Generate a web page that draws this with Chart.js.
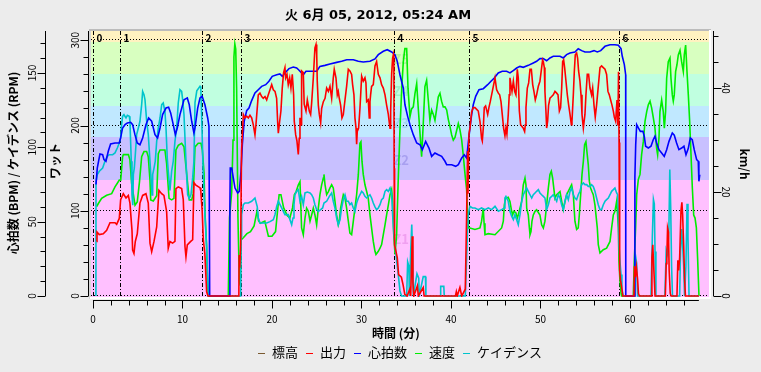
<!DOCTYPE html>
<html>
<head>
<meta charset="utf-8">
<script src="https://cdn.jsdelivr.net/npm/chart.js@4.4.1/dist/chart.umd.min.js"></script>
<style>
  html, body { margin: 0; padding: 0; background: #ececec; }
  canvas { display: block; }
</style>
</head>
<body>
<canvas id="ride" width="761" height="372"></canvas>
<script>
// Ride plot: power / heart rate / speed / cadence against time (minutes)

const rideTitle = '火 6月 05, 2012, 05:24 AM';

// [minute, watts]
const power = [
  [0.41,64],[0.45,75],[0.7,72],[1.15,73],[1.53,77],[1.9,86],[2.46,86],[2.65,84],[2.94,91],[3.09,113],[3.39,120],[3.69,115],[3.95,118],[4.13,109],[4.36,77],[4.43,54],[4.58,50],[4.73,64],[4.95,73],[5.25,109],[5.55,118],[5.92,120],[6.18,109],[6.37,62],[6.56,52],[6.82,64],[7.12,81],[7.37,124],[7.67,120],[7.93,118],[8.23,99],[8.41,56],[8.6,64],[8.9,62],[9.16,64],[9.27,126],[9.53,128],[9.91,126],[10.09,113],[10.28,58],[10.39,46],[10.54,60],[10.92,64],[11.14,66],[11.28,133],[11.5,130],[11.8,128],[11.96,127],[12.05,123],[12.2,100],[12.33,66],[12.5,50],[12.7,5],[12.85,0],
  [16.3,0],[16.33,48],[16.4,33],[16.5,60],[16.6,170],[16.8,213],[16.98,209],[17.17,211],[17.36,209],[17.54,212],[17.73,209],[17.91,201],[18.1,189],[18.21,201],[18.36,221],[18.47,236],[18.66,238],[18.85,234],[19.03,232],[19.22,234],[19.41,230],[19.59,236],[19.78,242],[19.97,248],[20.15,242],[20.34,240],[20.52,232],[20.63,205],[20.71,191],[20.86,205],[21.0,217],[21.15,244],[21.3,262],[21.45,268],[21.53,256],[21.68,260],[21.82,248],[21.98,256],[22.12,244],[22.27,260],[22.42,236],[22.49,205],[22.65,189],[22.79,182],[22.94,166],[23.05,185],
  [23.13,209],[23.25,201],[23.31,264],[23.5,262],[23.6,225],[23.8,217],[23.95,230],[24.17,217],[24.32,213],[24.43,226],[24.62,256],[24.8,291],[24.92,295],[25.0,283],[25.06,252],[25.18,224],[25.29,213],[25.44,203],[25.55,220],[25.74,228],[25.93,232],[26.11,244],[26.3,240],[26.48,246],[26.67,232],[26.85,256],[26.96,266],[27.15,256],[27.3,236],[27.41,240],[27.52,232],[27.67,224],[27.82,209],[27.97,213],[28.16,230],[28.34,246],[28.53,266],[28.71,264],[28.9,260],[29.01,248],[29.16,236],[29.27,209],[29.39,197],[29.46,178],[29.53,193],[29.68,197],[29.83,220],[29.91,236],[30.02,258],[30.2,252],[30.39,256],[30.5,250],[30.58,228],[30.76,230],[30.87,209],[30.95,228],[31.02,236],[31.13,246],[31.32,248],[31.51,270],[31.69,275],[31.88,260],[32.07,256],[32.25,248],[32.44,244],[32.63,236],[32.81,224],[33.0,213],[33.11,203],[33.19,197],[33.26,216],[33.37,260],[33.48,279],[33.56,283],[33.62,275],[33.65,150],[33.7,60],[34.0,45],[34.15,25],[34.46,22],[34.65,13],[34.84,2],[35.1,0],[35.4,8],[35.5,0],[35.6,40],[35.67,70],[35.75,15],[35.85,0],[36.25,12],[36.35,0],[36.9,10],[37.0,0],[40.5,0],[40.6,5],[40.7,0],[41.0,10],[41.2,0],[41.6,8],
  [41.75,95],[41.86,170],[41.9,120],[42.01,190],[42.12,197],[42.31,216],[42.49,221],[42.68,221],[42.87,219],[43.05,217],[43.24,205],[43.42,185],[43.5,182],[43.61,197],[43.72,221],[43.87,223],[44.1,213],[44.24,221],[44.39,228],[44.62,240],[44.77,248],[44.92,256],[45.1,242],[45.29,238],[45.44,236],[45.59,228],[45.73,213],[45.88,197],[46.03,188],[46.14,197],[46.25,190],[46.4,213],[46.51,236],
  [46.59,256],[46.7,248],[46.82,240],[46.97,252],[47.12,240],[47.26,236],[47.41,266],[47.52,256],[47.64,217],[47.78,201],[47.93,199],[48.08,197],[48.23,193],[48.31,201],[48.38,221],[48.53,244],[48.68,250],[48.83,266],[48.98,266],[49.13,248],[49.27,240],[49.42,230],[49.57,236],[49.76,246],[49.94,252],[50.13,268],[50.24,277],[50.32,275],[50.43,268],[50.5,240],[50.61,217],[50.69,197],[50.8,205],[50.91,224],[51.06,232],[51.25,234],[51.43,236],[51.62,240],[51.81,238],[51.96,236],[52.11,217],[52.25,221],[52.37,244],[52.48,275],[52.59,277],[52.7,268],[52.85,252],[53.0,236],[53.15,224],[53.3,213],[53.45,201],[53.52,205],[53.67,236],[53.78,263],[53.89,283],[54.04,285],[54.15,279],[54.26,264],[54.41,252],[54.53,236],[54.64,213],[54.79,197],[54.86,197],[54.97,213],[55.08,236],[55.23,260],[55.38,260],[55.53,244],[55.71,236],[55.83,244],[55.98,224],[56.12,210],[56.27,224],[56.46,246],[56.65,268],[56.83,270],[57.02,268],[57.21,266],[57.39,260],[57.54,240],[57.69,236],[57.84,230],[57.99,224],[58.14,217],[58.25,210],
  [58.4,205],[58.55,230],[58.65,200],[58.72,263],[58.78,180],[58.85,30],[58.95,18],[59.05,12],[59.2,0],[60.45,0],[60.5,35],[60.6,22],[60.72,34],[60.85,20],[60.95,3],[61.05,0],[62.35,0],[62.45,45],[62.55,60],[62.65,35],[62.8,0],[63.95,0],[64.05,38],[64.12,46],[64.2,80],[64.3,75],[64.38,30],[64.5,3],[64.6,0],[65.25,0],[65.35,42],[65.45,30],[65.55,45],[65.7,100],[65.8,110],[65.88,96],[66.0,60],[66.1,20],[66.2,0],[67.7,0]
];

// [minute, bpm]
const heartRate = [
  [0.34,75],[0.48,86],[0.78,95.5],[1.08,95],[1.23,91.7],[1.45,90.6],[1.71,97.3],[1.97,102.2],[2.46,102.9],[2.94,102.9],[3.09,106.3],[3.31,113],[3.58,115.2],[3.84,116.3],[4.21,116.8],[4.43,115.2],[4.69,108.5],[4.95,102.9],[5.25,101.7],[5.55,106.3],[5.92,115.2],[6.22,119.7],[6.56,117.5],[6.93,108.5],[7.22,106.3],[7.49,113],[7.78,122],[8.16,126.4],[8.45,126.9],[8.68,123.1],[8.97,115.2],[9.2,108.5],[9.42,113],[9.72,122],[10.17,132],[10.54,133.2],[10.76,128.6],[11.03,117.5],[11.28,109.6],[11.4,113],[11.7,126.4],[11.96,133.2],[12.2,134.3],[12.51,128.6],[12.82,119.7],[12.96,114.1],[13.04,0],
  [15.22,0],[15.3,60],[15.34,86],[15.5,86],[15.68,79.4],[15.87,72.6],[16.17,69.3],[16.35,70.4],[16.54,83.9],[16.69,101.7],[16.9,117.5],[17.17,124.6],[17.43,126.4],[17.73,131.4],[18.1,136.5],[18.47,138.7],[18.85,141],[19.3,142.1],[19.66,144.4],[20.03,147.7],[20.53,148.8],[20.89,149.3],[21.15,147.7],[21.45,150],[21.9,152.9],[22.38,154],[22.76,153.3],[23.0,152],[23.13,151.1],[23.5,148.8],[23.8,151.1],[25.0,151.1],[25.36,154.4],[25.92,155.1],[26.48,156],[27.23,157.1],[27.79,157.8],[28.35,158.9],[29.09,158.9],[29.64,157.8],[30.2,157.4],[30.95,157.8],[31.51,159.4],[31.88,162.3],[32.44,164.6],[32.88,165.6],[33.37,164.1],[33.74,162.3],[34.0,157.8],[34.3,148.8],[34.67,139.9],
  [34.86,128.6],[35.16,120.8],[35.42,115.2],[35.79,108.5],[36.17,102.9],[36.54,101.7],[36.8,98.4],[37.17,104],[37.54,99.5],[37.84,93.9],[38.21,96.2],[38.58,95],[38.96,93.9],[39.33,90.6],[39.52,88.3],[40.08,88.3],[40.53,87.2],[40.82,88.3],[41.2,92.8],[41.49,95],[41.75,92.8],[41.87,99.5],[42.12,113],[42.31,122],[42.49,128.6],[42.76,134.3],[43.13,138.7],[43.61,139.4],[44.1,142.1],[44.47,144.4],[44.84,146.6],[45.28,150],[45.73,151.1],[46.22,151.1],[46.59,150],
  [46.96,151.6],[47.34,153.3],[47.71,154.4],[48.08,153.8],[48.64,155.1],[49.2,156.7],[49.57,157.8],[49.94,159.6],[50.31,159.6],[50.69,158.2],[51.06,160.1],[51.43,161.2],[52.18,161.2],[52.55,160.1],[52.92,162.3],[53.3,163.4],[53.85,164.1],[54.22,166.3],[54.6,165],[54.97,164.1],[55.53,164.1],[55.98,165],[56.35,164.1],[56.73,165],[57.21,167.9],[57.77,169],[58.32,169],[58.7,168.6],[59.0,166.3],[59.14,161.2],[59.37,155.6],[59.52,148.8],[59.53,0],
  [60.48,0],[60.55,80],[60.64,101.7],[60.75,115.2],[60.94,113],[61.16,110.7],[61.45,110.7],[61.6,107.4],[61.75,100.7],[62.05,99.5],[62.35,100.7],[62.6,105.1],[62.79,107.4],[62.98,102.9],[63.24,98.4],[63.54,96.2],[63.83,93.9],[64.1,98.4],[64.36,104],[64.73,109.6],[64.95,108.1],[65.21,102.9],[65.47,98.4],[65.77,99.5],[66.03,100.7],[66.26,95],[66.51,99.1],[66.74,106.3],[66.96,105.1],[67.18,98.4],[67.45,91.7],[67.63,90.6],[67.7,77.1],[67.8,81.6]
];

// [minute, km/h]
const speed = [
  [0.41,17.2],[0.6,17.8],[0.97,18.8],[1.53,19.4],[2.09,19.7],[2.46,21],[2.72,21.7],[2.94,22.3],[3.1,22.3],[3.31,26.8],[3.4,27.2],[3.96,27.2],[4.13,26.2],[4.32,21.7],[4.5,19.7],[4.7,17.5],[4.95,18.1],[5.2,22],[5.44,26.8],[5.7,27.8],[6.0,27.8],[6.18,26.8],[6.37,22.3],[6.45,18.5],[6.74,18.3],[7.12,19.3],[7.3,27.4],[7.49,28.1],[8.04,28.1],[8.23,25.5],[8.5,18.8],[8.79,18.5],[9.05,18.8],[9.27,28.1],[9.53,29],[9.91,29.4],[10.17,28.7],[10.39,24.9],[10.76,18.5],[11.03,18.5],[11.2,19.7],[11.4,28.7],[11.76,29.4],[12.07,29.4],[12.22,28.1],[12.41,23.6],[12.52,15.9],[12.7,9.5],[12.77,4.4],[12.88,0.5],[12.95,0],
  [15.12,0],[15.25,15],[15.5,20],[15.65,30],[15.75,46],[15.85,48.5],[15.95,47.5],[16.05,40],[16.2,15],[16.35,3],[16.45,2],[16.55,10.8],[16.8,11.2],[17.2,12],[17.6,12.4],[18.0,13.5],[18.35,16.5],[18.5,14.5],[18.7,14],[19.2,14.4],[19.6,11.5],[20.0,11.5],[20.4,12.4],[20.6,16],[20.8,19.5],[21.0,19.5],[21.3,17],[21.7,15.5],[22.0,15],[22.3,17],[22.5,19.5],[22.7,20.1],[22.95,21.4],
  [23.13,22],[23.31,13.1],[23.5,11.8],[23.69,15],[23.87,16.9],[24.06,16.3],[24.25,14.4],[24.43,15.6],[24.62,16.9],[24.8,15.6],[24.99,13.7],[25.18,16.9],[25.36,19.5],[25.55,21.4],[25.74,22.7],[25.81,23.4],[25.93,21.4],[26.11,19.5],[26.3,20.1],[26.48,20.8],[26.67,21.4],[26.85,20.8],[27.04,18.2],[27.22,15.6],[27.41,13.7],[27.52,14.4],[27.67,16.9],[27.82,18.2],[27.97,19.5],[28.16,18.8],[28.34,16.9],[28.53,14.4],[28.71,12.1],[28.9,11.8],[29.09,14.4],[29.27,16.9],[29.46,19.5],[29.65,23.4],[29.83,29.4],[29.94,29.7],[30.06,25.9],[30.2,23.4],[30.39,21.4],[30.58,20.1],[30.76,18.8],[30.95,15.6],[31.13,13.1],[31.32,10.5],[31.51,8.6],[31.62,8],[31.88,8.6],[32.07,9.2],[32.25,9.9],[32.44,11.8],[32.63,13.7],[32.81,15.6],[33.0,17.5],[33.19,19.5],[33.37,20.5],[33.48,18.2],[33.6,12],[33.75,8],[33.93,12],
  [34.1,22],[34.3,32],[34.5,40],[34.67,45],[34.85,47.6],[35.05,47.6],[35.2,40],[35.42,34.5],[35.6,36],[35.79,36.4],[35.98,39],[36.17,40.9],[36.35,36],[36.54,31.3],[36.72,26.8],[36.9,33],[37.09,40.3],[37.28,41.5],[37.45,38],[37.65,33.8],[37.84,35.8],[38.02,35],[38.21,33.8],[38.4,36],[38.58,38.3],[38.77,39],[38.95,37.5],[39.14,36.4],[39.33,36.4],[39.52,35.8],[39.7,34],[39.89,32.6],[40.08,31],[40.26,30],[40.45,30.5],[40.64,31.9],[40.82,33.2],[41.0,32],[41.2,30],[41.38,27],[41.56,23.6],[41.75,20.4],[41.85,16],[41.94,13.1],
  [42.12,13.1],[42.68,12.8],[43.24,13.1],[43.42,14.4],[43.61,16.9],[43.7,14],[43.8,11.8],[44.17,12],[44.92,11.8],[45.66,13.1],[45.85,14.4],[45.96,17.5],[46.1,18.8],[46.4,19],[46.59,18.2],
  [46.78,16.3],[46.89,15.6],[47.04,16.3],[47.26,16],[47.41,15],[47.52,15.6],[47.71,16.9],[47.9,18.2],[48.08,21.4],[48.27,22.7],[48.38,21.4],[48.46,16.9],[48.64,15.6],[48.76,13.1],[48.83,11.8],[48.94,12.4],[49.05,14.4],[49.2,15.6],[49.39,16.3],[49.57,16.6],[49.94,15.6],[50.13,13.7],[50.32,13.1],[50.5,14.4],[50.69,17.5],[50.88,20.8],[51.06,23.4],[51.21,24],[51.36,22.7],[51.62,18.8],[51.81,19.5],[52.18,20.1],[52.37,18.2],[52.55,16.6],[52.74,18.2],[52.92,19.5],[53.3,20.8],[53.48,21.4],[53.67,19.5],[53.85,14.4],[54.04,12.8],[54.22,13.1],[54.34,15.6],[54.49,19.5],[54.64,23.4],[54.79,25.9],[54.93,29.1],[55.08,29.7],[55.19,27.8],[55.34,25.3],[55.46,22.1],[55.6,20.8],[55.75,20.1],[55.9,19.5],[56.09,17.5],[56.2,15.6],[56.35,13.1],[56.46,9.9],[56.65,8.3],[57.02,8.9],[57.39,9.2],[57.77,10.5],[57.95,13.1],[58.14,15.6],[58.32,16.3],
  [58.51,18.2],[58.62,15.6],[58.7,13.1],[58.77,6.7],[58.88,2.9],[59.0,0.6],[59.07,0],[60.37,0],[60.48,6.7],[60.63,13.1],[60.75,19.5],[60.93,22.4],[61.12,23.4],[61.3,27.2],[61.49,29.7],[61.68,33.6],[61.87,35.5],[62.05,36.8],[62.24,37.5],[62.42,36.2],[62.61,34.3],[62.79,32.3],[62.98,28.4],[63.09,27.2],[63.24,30.4],[63.35,35.5],[63.54,37.7],[63.72,35.5],[63.84,32.3],[63.98,35.5],[64.1,41.9],[64.28,45.1],[64.47,45.8],[64.58,41.9],[64.73,38.7],[64.84,37.5],[64.95,38.7],[65.1,43.2],[65.25,44.5],[65.4,46.4],[65.59,47.3],[65.77,45.1],[65.96,43.2],[66.07,46.4],[66.22,48.3],[66.37,43.2],[66.52,38.7],[66.67,33.6],[66.82,27.2],[66.97,20.8],[67.12,15.6],[67.27,15],[67.42,13.1],[67.57,6.7],[67.71,0]
];

// [minute, rpm]
const cadence = [
  [0.33,0],[0.34,77],[0.48,81.6],[0.71,83.9],[1.08,86.1],[1.34,90.6],[1.6,93.9],[1.82,95],[2.2,95],[2.46,96.2],[2.72,99.5],[2.94,102.9],[3.09,106.3],[3.2,115.2],[3.31,120.8],[3.46,121.9],[3.69,119.7],[3.84,121.5],[4.06,120.8],[4.13,117.5],[4.28,90.6],[4.36,68],[4.45,61],[4.51,81.6],[4.62,86.1],[4.73,95],[4.88,108.5],[5.07,113],[5.25,117.5],[5.44,128.7],[5.55,137.6],[5.7,135.4],[5.81,132.1],[6.0,117.5],[6.18,108.5],[6.37,90.6],[6.48,79.4],[6.6,68],[6.67,81.6],[6.82,86],[6.96,90.6],[7.12,104],[7.3,113],[7.49,119.7],[7.68,128.7],[7.85,129.8],[8.04,124.2],[8.16,113],[8.3,92.8],[8.41,83.9],[8.6,71],[8.79,83.9],[8.97,90.6],[9.16,104],[9.35,113],[9.53,129.8],[9.72,138.7],[9.91,137.6],[10.02,132.1],[10.17,121.9],[10.39,90.6],[10.58,68.1],[10.76,65.7],[10.95,68.1],[11.14,79.4],[11.28,90.6],[11.4,130],[11.6,138],[11.96,141],[12.05,140],[12.15,120],[12.3,85],[12.5,56],[12.7,33],[12.88,0],
  [16.5,0],[16.56,40],[16.61,54.7],[16.8,61.4],[16.98,62.5],[17.36,62.5],[17.73,63.7],[18.1,65.9],[18.36,60],[18.47,52.5],[18.66,49.1],[19.03,49.1],[19.41,49.1],[19.78,50],[20.15,51.3],[20.34,54.7],[20.52,60],[20.71,63.7],[21.08,59.2],[21.45,54.7],[21.82,54.7],[22.01,51.3],[22.2,48],[22.35,52.5],[22.46,61.4],[22.57,68.1],[22.76,70.4],[22.94,71.5],
  [23.13,63.7],[23.31,67],[23.5,61.4],[23.69,69.3],[23.95,69.9],[24.25,69.3],[24.43,68.1],[24.62,65.9],[24.8,61.4],[24.99,58.1],[25.18,56.9],[25.44,58.1],[25.66,59.2],[25.81,62.5],[26.11,63.7],[26.41,67],[26.67,69.3],[26.85,63.7],[27.04,59.2],[27.22,52.5],[27.41,48],[27.6,51.3],[27.78,59.2],[27.97,64.8],[28.16,68.1],[28.34,63.7],[28.53,63.7],[28.71,61.4],[28.9,62.5],[29.09,59.2],[29.27,56.9],[29.46,62.5],[29.65,65.9],[29.83,68.1],[30.02,70.4],[30.2,69.3],[30.39,67],[30.58,65.9],[30.95,68.1],[31.13,65.9],[31.32,62.5],[31.51,60],[31.69,58.1],[31.88,59.2],[32.07,61.4],[32.25,64.8],[32.44,65.9],[32.63,70.4],[32.81,71.5],[33.0,70.4],[33.19,72.6],[33.37,68.1],[33.48,54.7],[33.63,41.3],[33.74,34.6],[33.93,23.4],[34.11,14.5],[34.3,3.4],[34.48,0],
  [35.05,0],[35.16,23],[35.3,20],[35.35,0],[35.5,30],[35.62,48],[35.7,30],[35.8,0],[36.2,15],[36.4,12],[36.45,0],[36.9,13],[37.15,13],[37.2,0],[38.8,0],[38.85,6.5],[39.2,6.5],[39.25,0],[41.6,0],[41.75,25],[41.85,45],[41.94,55],
  [42.12,60.3],[42.4,59.2],[42.68,59.2],[43.05,58.1],[43.42,59.2],[43.8,58.1],[44.17,59.2],[44.55,58.1],[44.92,60.3],[45.29,57],[45.66,58.1],[45.96,59.2],[46.03,65.9],[46.14,67],[46.4,63.7],[46.59,56.9],
  [46.78,53.6],[46.97,51.3],[47.15,54.7],[47.34,51.3],[47.52,48],[47.71,54.7],[47.9,63.7],[48.08,68.1],[48.27,70.4],[48.46,72.6],[48.64,70.4],[48.83,68.1],[49.02,65.9],[49.2,68.1],[49.39,69.3],[49.57,70.4],[49.76,71.5],[49.94,69.3],[50.13,68.1],[50.32,67],[50.5,65.9],[50.69,58.1],[50.88,61.4],[51.06,65.9],[51.25,67],[51.43,68.1],[51.62,65.9],[51.81,63.7],[51.99,68.1],[52.18,65.9],[52.37,61.4],[52.55,58.1],[52.74,63.7],[52.92,68.1],[53.11,64.8],[53.3,70.4],[53.48,72.6],[53.67,68.1],[53.85,65.9],[54.04,64.8],[54.22,68.1],[54.41,70.4],[54.6,74.9],[54.79,76],[54.97,74.9],[55.16,74.9],[55.34,73.7],[55.53,73.7],[55.71,74.9],[55.9,73.7],[56.09,70.4],[56.27,65.9],[56.46,61.4],[56.65,58.1],[56.83,58.1],[57.02,61.4],[57.21,63.7],[57.39,64.8],[57.58,65.9],[57.77,68.1],[57.95,70.4],[58.14,71.5],[58.32,72.6],
  [58.51,69.3],[58.62,68.1],[58.7,55],[58.77,34.6],[58.88,23.4],[59.0,14.5],[59.1,5],[59.25,0],[60.48,0],[60.55,20],[60.65,26],[60.75,22],[60.85,0],[62.35,0],[62.5,40],[62.62,65],[62.72,62],[62.8,30],[62.9,0],[63.9,0],[64.05,31],[64.2,28],[64.35,45],[64.45,85],[64.55,60],[64.65,20],[64.75,0],[65.55,0],[65.65,30],[65.77,45],[65.85,38],[66.0,20],[66.1,0],[66.25,20],[66.38,62],[66.48,40],[66.6,0],[67.7,0]
];

// elevation is in the legend but has no trace on this plot
const elevation = [];

// lap markers (minutes) and their labels
const intervalStarts = [0.03, 3.05, 12.15, 16.57, 33.6, 41.98, 58.74];
const intervalNames = ['0', '1', '2', '3', '4', '5', '6'];

// power zones (watts, lower bounds)
const zoneBounds = [0, 136, 186, 223, 260, 298];
const zoneNames = ['Z1', 'Z2', 'Z3', 'Z4', 'Z5', 'Z6'];
const zoneFills = ['#ffc0ff', '#c8c0ff', '#c0e8ff', '#c0ffe0', '#d8ffc0', '#fff2c0'];
const zoneInk = ['#f0a0f0', '#a8a0f0', '#a0d4f4', '#a0f0c8', '#b4f0a0', '#f0e0a0'];

// axis tick marks and labels
const minuteTicks = [0,2,4,6,8,10,12,14,16,18,20,22,24,26,28,30,32,34,36,38,40,42,44,46,48,50,52,54,56,58,60,62,64,66];
const minuteLabels = [0, 10, 20, 30, 40, 50, 60];
const wattTicks = [0,20,40,60,80,100,120,140,160,180,200,220,240,260,280,300];
const wattLabels = [0, 100, 200, 300];
const bpmTicks = [0,10,20,30,40,50,60,70,80,90,100,110,120,130,140,150,160,170];
const bpmLabels = [0, 50, 100, 150];
const speedTicks = [0,5,10,15,20,25,30,35,40,45,50];
const speedLabels = [0, 20, 40];

const FONT = '"Noto Sans CJK JP", "Noto Sans", sans-serif';
const TITLE_FONT = 'bold 13px "DejaVu Sans", "Noto Sans CJK JP", sans-serif';
const xy = rows => rows.map(r => ({ x: r[0], y: r[1] }));

function rotatedText(ctx, text, x, y, angle, font) {
    ctx.save();
    ctx.translate(x, y);
    ctx.rotate(angle);
    ctx.font = font;
    ctx.textAlign = 'center';
    ctx.textBaseline = 'middle';
    ctx.fillText(text, 0, 0);
    ctx.restore();
}

const ridePlot = {
    id: 'ridePlot',
    beforeDraw(chart) {
        const { ctx, chartArea: a, scales } = chart;
        const yw = scales.yWatts, xs = scales.x;
        ctx.save();
        ctx.fillStyle = '#ececec';
        ctx.fillRect(0, 0, chart.width, chart.height);

        // title
        ctx.fillStyle = '#000';
        ctx.font = TITLE_FONT;
        ctx.textAlign = 'center';
        ctx.textBaseline = 'middle';
        ctx.fillText(rideTitle, 378, 16);

        // zone bands
        zoneBounds.forEach((lo, i) => {
            const hi = i + 1 < zoneBounds.length ? zoneBounds[i + 1] : yw.max;
            const top = Math.round(yw.getPixelForValue(hi));
            const bottom = i === 0 ? a.bottom : Math.round(yw.getPixelForValue(lo));
            ctx.fillStyle = zoneFills[i];
            ctx.fillRect(a.left, top, a.right - a.left, bottom - top);
        });

        // sunken frame
        ctx.fillStyle = '#bcbcbc';
        ctx.fillRect(a.left - 2, a.top - 2, a.right - a.left + 4, 2);
        ctx.fillStyle = '#d6d6d6';
        ctx.fillRect(a.left - 2, a.top, 2, a.bottom - a.top + 2);
        ctx.fillStyle = '#ffffff';
        ctx.fillRect(a.left - 1, a.bottom, a.right - a.left + 3, 2);
        ctx.fillRect(a.right, a.top - 1, 2, a.bottom - a.top + 2);

        // zone names
        ctx.font = 'bold 13px ' + FONT;
        zoneBounds.forEach((lo, i) => {
            if (i === zoneBounds.length - 1) return;
            const hi = zoneBounds[i + 1];
            ctx.fillStyle = zoneInk[i];
            ctx.fillText(zoneNames[i], (a.left + a.right) / 2 + 1, yw.getPixelForValue((lo + hi) / 2) + 1);
        });

        // dotted watt grid
        ctx.strokeStyle = '#000';
        ctx.lineWidth = 1;
        ctx.setLineDash([1, 2]);
        wattLabels.forEach(v => {
            const y = Math.round(yw.getPixelForValue(v)) - 0.5;
            ctx.beginPath();
            ctx.moveTo(a.left, y);
            ctx.lineTo(a.right, y);
            ctx.stroke();
        });

        // lap markers
        ctx.setLineDash([4, 2, 1, 2]);
        ctx.font = 'bold 10px ' + FONT;
        ctx.textAlign = 'left';
        ctx.fillStyle = '#000';
        intervalStarts.forEach((t, i) => {
            const x = Math.round(xs.getPixelForValue(t)) + 0.5;
            ctx.beginPath();
            ctx.moveTo(x, a.top);
            ctx.lineTo(x, a.bottom);
            ctx.stroke();
            ctx.fillText(intervalNames[i], x + 3, a.top + 7);
        });
        ctx.restore();
    },
    afterDraw(chart) {
        const { ctx, chartArea: a, scales } = chart;
        const xs = scales.x, yw = scales.yWatts, yb = scales.yBpm, ys = scales.ySpeed;
        ctx.save();
        ctx.strokeStyle = '#000';
        ctx.fillStyle = '#000';
        ctx.lineWidth = 1;
        const tickFont = '10px ' + FONT;
        const titleFont = 'bold 12px ' + FONT;

        // time axis
        const xAxisY = 300.5;
        ctx.beginPath();
        ctx.moveTo(xs.getPixelForValue(0), xAxisY);
        ctx.lineTo(xs.getPixelForValue(67.7), xAxisY);
        minuteTicks.forEach(t => {
            const x = Math.round(xs.getPixelForValue(t)) + 0.5;
            ctx.moveTo(x, xAxisY);
            ctx.lineTo(x, xAxisY + (minuteLabels.includes(t) ? 8 : 5));
        });
        ctx.stroke();
        ctx.font = tickFont;
        ctx.textAlign = 'center';
        ctx.textBaseline = 'middle';
        minuteLabels.forEach(t => ctx.fillText(String(t), xs.getPixelForValue(t), 319));
        ctx.font = titleFont;
        ctx.fillText('時間 (分)', 396, 333);

        // left axes (bpm/rpm outer, watts inner) and right speed axis
        const vAxis = (scale, x, dir, ticks, labels, labelX, angle) => {
            ctx.beginPath();
            ctx.moveTo(x, scale.getPixelForValue(0));
            ctx.lineTo(x, a.top);
            ticks.forEach(v => {
                const y = Math.round(scale.getPixelForValue(v)) + 0.5;
                ctx.moveTo(x, y);
                ctx.lineTo(x + dir * (labels.includes(v) ? 8 : 5), y);
            });
            ctx.stroke();
            labels.forEach(v => rotatedText(ctx, String(v), labelX, scale.getPixelForValue(v), angle, tickFont));
        };
        vAxis(yb, 45.5, -1, bpmTicks, bpmLabels, 32.5, -Math.PI / 2);
        vAxis(yw, 88.5, -1, wattTicks, wattLabels, 75, -Math.PI / 2);
        vAxis(ys, 713.5, 1, speedTicks, speedLabels, 726, Math.PI / 2);

        const midY = (a.top + a.bottom) / 2;
        rotatedText(ctx, '心拍数 (BPM) / ケイデンス (RPM)', 13, midY - 1, -Math.PI / 2, titleFont);
        rotatedText(ctx, 'ワット', 55, midY - 3, -Math.PI / 2, titleFont);
        rotatedText(ctx, 'km/h', 745, midY, Math.PI / 2, titleFont);

        // legend
        ctx.font = '13px ' + FONT;
        const items = chart.data.datasets.map(d => ({ text: d.label, color: d.borderColor, w: ctx.measureText(d.label).width }));
        const dash = 7, gap = 7, spacing = 8;
        const total = items.reduce((s, it) => s + dash + gap + it.w, 0) + spacing * (items.length - 1);
        let x = (a.left + a.right) / 2 - total / 2;
        const ly = 352.5;
        ctx.textAlign = 'left';
        ctx.textBaseline = 'middle';
        items.forEach(it => {
            ctx.fillStyle = it.color;
            ctx.fillRect(Math.round(x), Math.round(ly), dash, 1);
            x += dash + gap;
            ctx.fillStyle = '#000';
            ctx.fillText(it.text, x, ly);
            x += it.w + spacing;
        });
        ctx.restore();
    }
};

new Chart(document.getElementById('ride'), {
    type: 'line',
    data: {
        datasets: [
            { label: '標高', data: xy(elevation), borderColor: '#7a5a30', backgroundColor: '#7a5a30', yAxisID: 'yWatts', order: 5 },
            { label: '出力', data: xy(power), borderColor: '#ff0000', backgroundColor: '#ff0000', yAxisID: 'yWatts', order: 1 },
            { label: '心拍数', data: xy(heartRate), borderColor: '#0000ff', backgroundColor: '#0000ff', yAxisID: 'yBpm', order: 2 },
            { label: '速度', data: xy(speed), borderColor: '#00ee00', backgroundColor: '#00ee00', yAxisID: 'ySpeed', order: 4 },
            { label: 'ケイデンス', data: xy(cadence), borderColor: '#00c4cc', backgroundColor: '#00c4cc', yAxisID: 'yBpm', order: 3 }
        ]
    },
    options: {
        responsive: false,
        animation: false,
        devicePixelRatio: 1,
        parsing: false,
        normalized: true,
        elements: {
            point: { radius: 0, hoverRadius: 0 },
            line: { borderWidth: 1.6, tension: 0 }
        },
        layout: { padding: { left: 91, right: 52, top: 31, bottom: 75 } },
        scales: {
            x: { type: 'linear', min: -0.22, max: 68.83, display: false },
            yWatts: { type: 'linear', position: 'left', min: -1.17, max: 310.9, display: false },
            yBpm: { type: 'linear', position: 'left', min: -0.67, max: 178.2, display: false },
            ySpeed: { type: 'linear', position: 'right', min: -0.19, max: 51.0, display: false }
        },
        plugins: {
            legend: { display: false },
            tooltip: { enabled: false },
            title: { display: false }
        }
    },
    plugins: [ridePlot]
});
</script>
</body>
</html>
